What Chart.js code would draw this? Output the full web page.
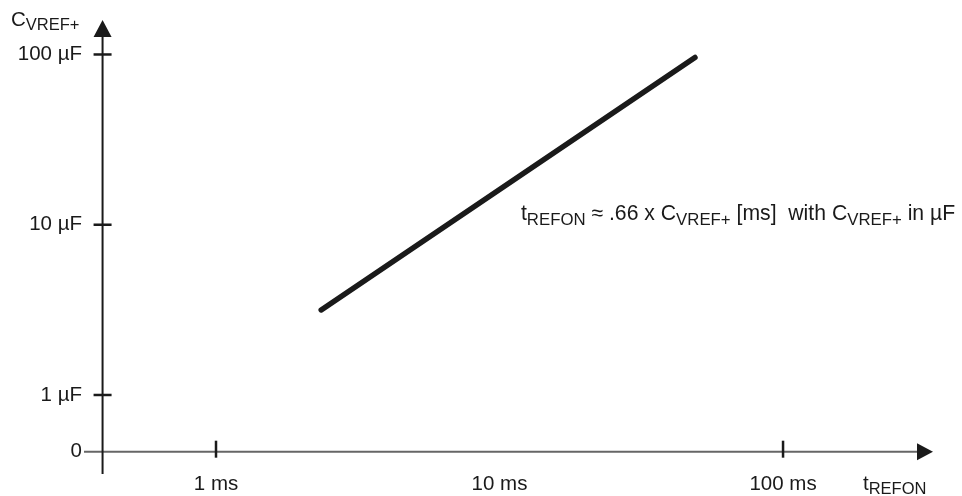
<!DOCTYPE html>
<html><head><meta charset="utf-8">
<script src="https://cdn.jsdelivr.net/npm/chart.js@4.4.1/dist/chart.umd.min.js"></script>
<style>html,body{margin:0;padding:0;background:#fff;} canvas{display:block;}</style>
</head><body>
<canvas id="c" width="962" height="496"></canvas>
<script>
// ---- data ----
const timeMs = [2.35, 48.9];          // t_REFON in ms (x)
const capUF = [3.16, 96];             // C_VREF+ in µF (y)
const xTickValues = [1, 10, 100];
const xTickLabels = ['1 ms', '10 ms', '100 ms'];
const xTickMarks = [1, 100];
const yZero = 0.4645;                 // value position drawn as "0"
const yTickValues = [yZero, 1, 10, 100];
const yTickLabels = ['0', '1 µF', '10 µF', '100 µF'];
const yTickMarks = [1, 10, 100];
const yAxisAtX = 0.398;               // time value where the vertical axis is drawn
const xRange = [0.3423, 338];
const yRange = [0.3435, 159.4];
const annoAt = [11.9, 10.66];
const annoParts = [['t',0],['REFON',1],[' \u2248 .66 x C',0],['VREF+',1],[' [ms]  with C',0],['VREF+',1],[' in \u00b5F',0]];
const yTitleParts = [['C',0],['VREF+',1]];
const xTitleParts = [['t',0],['REFON',1]];

const FONT = '"Liberation Sans", Arial, Helvetica, sans-serif';
const INK = '#1a1a1a';

function drawParts(ctx, x, y, parts, mainSize, subSize, subDrop) {
  ctx.textBaseline = 'alphabetic'; ctx.textAlign = 'left'; ctx.fillStyle = INK;
  for (const [t, sub] of parts) {
    ctx.font = (sub ? subSize : mainSize) + 'px ' + FONT;
    ctx.fillText(t, x, sub ? y + subDrop : y);
    x += ctx.measureText(t).width;
  }
}

const axesPlugin = {
  id: 'axesDeco',
  beforeDatasetsDraw(chart) {
    const {ctx, chartArea: a, scales: {x, y}} = chart;
    const x0 = x.getPixelForValue(yAxisAtX);
    const y0 = y.getPixelForValue(yZero);
    ctx.save();
    ctx.lineCap = 'butt';
    ctx.strokeStyle = '#666'; ctx.lineWidth = 2;
    ctx.beginPath(); ctx.moveTo(a.left, y0); ctx.lineTo(a.right - 14, y0); ctx.stroke();
    ctx.strokeStyle = INK;
    ctx.beginPath(); ctx.moveTo(x0, a.bottom); ctx.lineTo(x0, a.top + 14); ctx.stroke();
    ctx.fillStyle = INK;
    ctx.beginPath(); ctx.moveTo(a.right, y0); ctx.lineTo(a.right - 16, y0 - 8.5); ctx.lineTo(a.right - 16, y0 + 8.5); ctx.closePath(); ctx.fill();
    ctx.beginPath(); ctx.moveTo(x0, a.top); ctx.lineTo(x0 - 9, a.top + 17); ctx.lineTo(x0 + 9, a.top + 17); ctx.closePath(); ctx.fill();
    ctx.lineWidth = 2.5;
    xTickMarks.forEach(v => { const px = x.getPixelForValue(v); ctx.beginPath(); ctx.moveTo(px, y0 - 11); ctx.lineTo(px, y0 + 6); ctx.stroke(); });
    yTickMarks.forEach(v => { const py = y.getPixelForValue(v); ctx.beginPath(); ctx.moveTo(x0 - 9, py); ctx.lineTo(x0 + 9, py); ctx.stroke(); });
    ctx.restore();
  },
  afterDraw(chart) {
    const {ctx, scales: {x, y}} = chart;
    ctx.save();
    drawParts(ctx, 11, 26, yTitleParts, 20.5, 16.5, 3.5);
    drawParts(ctx, 863, 490, xTitleParts, 20.5, 16.5, 4);
    drawParts(ctx, x.getPixelForValue(annoAt[0]), y.getPixelForValue(annoAt[1]), annoParts, 21.2, 16.8, 5);
    ctx.restore();
  }
};

new Chart(document.getElementById('c'), {
  type: 'scatter',
  data: {
    datasets: [{
      data: timeMs.map((t, i) => ({x: t, y: capUF[i]})),
      showLine: true,
      borderColor: INK,
      borderWidth: 5.5,
      borderCapStyle: 'round',
      pointRadius: 0,
      pointHoverRadius: 0,
      fill: false
    }]
  },
  options: {
    responsive: false,
    animation: false,
    events: [],
    layout: {padding: {top: 20, right: 29, left: 0, bottom: 0}},
    plugins: {legend: {display: false}, tooltip: {enabled: false}},
    scales: {
      x: {
        type: 'logarithmic', min: xRange[0], max: xRange[1], bounds: 'data',
        afterBuildTicks: s => { s.ticks = xTickValues.map(v => ({value: v})); },
        afterFit: s => { s.height = 22; },
        grid: {display: false, drawTicks: false}, border: {display: false},
        ticks: {
          autoSkip: false, maxRotation: 0, padding: -2, color: INK,
          font: {family: FONT, size: 20.5},
          callback: (v, i) => xTickLabels[i]
        }
      },
      y: {
        type: 'logarithmic', min: yRange[0], max: yRange[1], bounds: 'data',
        afterBuildTicks: s => { s.ticks = yTickValues.map(v => ({value: v})); },
        afterFit: s => { s.width = 84; },
        grid: {display: false, drawTicks: false}, border: {display: false},
        ticks: {
          autoSkip: false, padding: 2, color: INK,
          font: {family: FONT, size: 20.5},
          callback: (v, i) => yTickLabels[i]
        }
      }
    }
  },
  plugins: [axesPlugin]
});
</script>
</body></html>
